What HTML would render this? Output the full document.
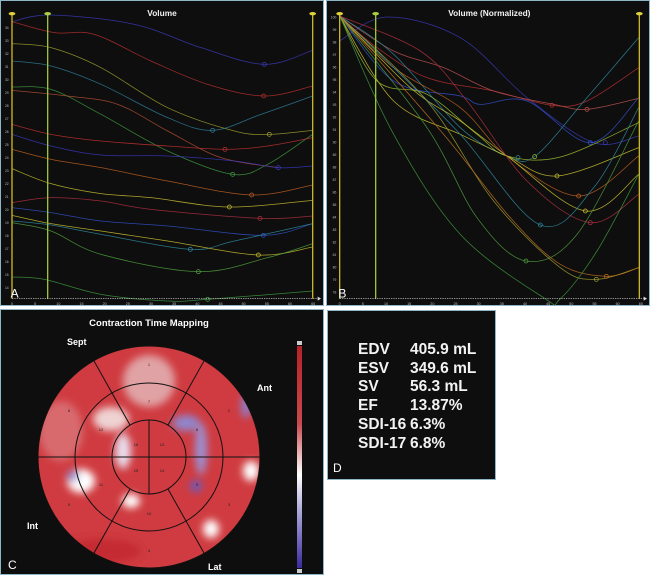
<!DOCTYPE html>
<html><head><meta charset="utf-8"><style>
html,body{margin:0;padding:0;background:#fff;width:650px;height:575px;overflow:hidden;font-family:"Liberation Sans",sans-serif}
.p{position:absolute;background:#0e0e0e;border:1px solid #8fb6c6;box-sizing:border-box}
svg{position:absolute;left:0;top:0}
.d{position:absolute;color:#f2f2f2;font-weight:bold;font-size:15.5px;line-height:18.7px}
</style></head><body>
<div class="p" style="left:0;top:0;width:324px;height:306px"><svg id="sa" width="324" height="306" viewBox="0 0 972 918"></svg></div>
<div class="p" style="left:326px;top:0;width:324px;height:306px"><svg id="sb" width="324" height="306" viewBox="0 0 972 918"></svg></div>
<div class="p" style="left:0;top:309px;width:324px;height:266px">
<svg width="324" height="266" viewBox="0 309 324 266">
<defs>
<filter id="bl" x="-50%" y="-50%" width="200%" height="200%"><feGaussianBlur stdDeviation="4"/></filter>
<clipPath id="cc"><circle cx="148" cy="456" r="111"/></clipPath>
<linearGradient id="cb" x1="0" y1="0" x2="0" y2="1"><stop offset="0" stop-color="#b52228"/><stop offset="0.35" stop-color="#c9494e"/><stop offset="0.58" stop-color="#fff"/><stop offset="0.72" stop-color="#b8b4de"/><stop offset="1" stop-color="#3a2aa0"/></linearGradient>
</defs>
<text x="148" y="325" fill="#fff" font-size="9.5" font-weight="bold" text-anchor="middle">Contraction Time Mapping</text>
<text x="66" y="344" fill="#fff" font-size="9" font-weight="bold">Sept</text>
<text x="256" y="390" fill="#fff" font-size="9" font-weight="bold">Ant</text>
<text x="26" y="528" fill="#fff" font-size="9" font-weight="bold">Int</text>
<text x="207" y="569" fill="#fff" font-size="9" font-weight="bold">Lat</text>
<text x="7" y="568" fill="#fff" font-size="12">C</text>
<circle cx="148" cy="456" r="111" fill="#cf3b40"/>
<g clip-path="url(#cc)" filter="url(#bl)">
<ellipse cx="148" cy="380" rx="26" ry="26" fill="#e0a2a4"/>
<ellipse cx="110" cy="418" rx="18" ry="12" fill="#efd3d3"/>
<ellipse cx="60" cy="430" rx="22" ry="30" fill="#d86a6e"/>
<ellipse cx="122" cy="450" rx="8" ry="18" fill="#e8dcec"/>
<ellipse cx="80" cy="480" rx="14" ry="12" fill="#fff"/>
<ellipse cx="72" cy="475" rx="6" ry="6" fill="#9a90d0"/>
<ellipse cx="130" cy="500" rx="9" ry="7" fill="#fff"/>
<ellipse cx="185" cy="422" rx="14" ry="8" fill="#8f86cc"/>
<ellipse cx="200" cy="448" rx="6" ry="26" fill="#9a92d4"/>
<ellipse cx="195" cy="485" rx="6" ry="6" fill="#6a5cc0"/>
<ellipse cx="210" cy="528" rx="8" ry="9" fill="#fff"/>
<ellipse cx="250" cy="470" rx="8" ry="10" fill="#fff"/>
<ellipse cx="245" cy="405" rx="5" ry="12" fill="#8a80cc"/>
<ellipse cx="100" cy="550" rx="40" ry="12" fill="#c42a30"/>
</g>
<g fill="none" stroke="#111" stroke-width="1">
<circle cx="148" cy="456" r="111"/><circle cx="148" cy="456" r="74"/><circle cx="148" cy="456" r="37"/>
<line x1="37" y1="456" x2="259" y2="456"/><line x1="148" y1="419" x2="148" y2="493"/>
<line x1="93" y1="360" x2="129" y2="424"/><line x1="203" y1="360" x2="167" y2="424"/>
<line x1="93" y1="552" x2="129" y2="488"/><line x1="203" y1="552" x2="167" y2="488"/>
</g>
<g fill="#222" font-size="4" text-anchor="middle">
<text x="148" y="365">1</text><text x="228" y="411">2</text><text x="228" y="505">3</text><text x="148" y="551">4</text><text x="68" y="505">5</text><text x="68" y="411">6</text>
<text x="148" y="402">7</text><text x="196" y="430">8</text><text x="196" y="485">9</text><text x="148" y="514">10</text><text x="100" y="485">11</text><text x="100" y="430">12</text>
<text x="161" y="445">13</text><text x="161" y="471">14</text><text x="135" y="471">15</text><text x="135" y="445">16</text>
</g>
<rect x="296" y="345" width="5" height="222" fill="url(#cb)"/>
<rect x="296" y="340" width="5" height="4" fill="#ccc"/><rect x="296" y="568" width="5" height="4" fill="#ccc"/>
</svg></div>
<div class="p" style="left:327px;top:310px;width:169px;height:170px">
<div class="d" style="left:30px;top:30px">EDV<br>ESV<br>SV<br>EF<br>SDI-16<br>SDI-17</div>
<div class="d" style="left:82px;top:30px">405.9 mL<br>349.6 mL<br>56.3 mL<br>13.87%<br>6.3%<br>6.8%</div>
<div style="position:absolute;left:5px;top:150px;color:#fff;font-size:12px">D</div>
</div>
<script>
function sm(p){var d="M"+p[0][0]+","+p[0][1];for(var i=0;i<p.length-1;i++){var a=p[i-1]||p[i],b=p[i],c=p[i+1],e=p[i+2]||c;d+=" C"+(b[0]+(c[0]-a[0])/6)+","+(b[1]+(c[1]-a[1])/6)+" "+(c[0]-(e[0]-b[0])/6)+","+(c[1]-(e[1]-b[1])/6)+" "+c[0]+","+c[1];}return d;}
function build(id,title,lx,gx,rx,curves,labels,letter){var s='';
s+='<text x="'+(id=="sa"?483:487)+'" y="45" fill="#f2f2f2" font-size="25" font-weight="bold" text-anchor="middle">'+title+'</text>';
curves.forEach(function(c){s+='<path d="'+sm(c[1])+'" fill="none" stroke="'+c[0]+'" stroke-width="2.3" opacity="0.85"/>';if(c[2])s+='<circle cx="'+c[2][0]+'" cy="'+c[2][1]+'" r="6" fill="none" stroke="'+c[0]+'" stroke-width="2.2"/>';});
s+='<line x1="'+lx+'" y1="38" x2="'+lx+'" y2="893" stroke="#c9b52a" stroke-width="4"/>';
s+='<line x1="'+gx+'" y1="38" x2="'+gx+'" y2="893" stroke="#9cc43a" stroke-width="4"/>';
s+='<line x1="'+rx+'" y1="38" x2="'+rx+'" y2="893" stroke="#c9b52a" stroke-width="4"/>';
s+='<ellipse cx="'+lx+'" cy="38" rx="10" ry="5" fill="#e0d03a"/><ellipse cx="'+gx+'" cy="38" rx="10" ry="5" fill="#a8d040"/><ellipse cx="'+rx+'" cy="38" rx="10" ry="5" fill="#e0d03a"/>';
s+='<line x1="'+lx+'" y1="893" x2="950" y2="893" stroke="#ddd" stroke-width="2" stroke-dasharray="4 3"/><path d="M950,887 L960,893 L950,899Z" fill="#ddd"/>';
for(var i=0;i<14;i++){s+='<text x="'+(lx+i*69.5)+'" y="912" fill="#bbb" font-size="11" text-anchor="middle">'+(i*5)+'</text>';}
labels.forEach(function(l,i){s+='<text x="'+(lx-10)+'" y="'+(l[1]+4)+'" fill="#bbb" font-size="10" text-anchor="end">'+l[0]+'</text>';});
s+='<text x="'+(lx-4)+'" y="890" fill="#fff" font-size="36">'+letter+'</text>';
document.getElementById(id).innerHTML=s;}
var A=[
['#3a3ab8',[[33,62],[150,42],[400,70],[600,140],[790,190],[935,148]],[790,190]],
['#b83030',[[33,62],[160,95],[280,100],[450,180],[620,250],[790,285],[935,255]],[788,285]],
['#a0a030',[[33,128],[150,140],[300,200],[500,320],[700,390],[805,400],[935,388]],[805,400]],
['#2f7f9a',[[33,180],[150,195],[300,250],[500,350],[635,388],[780,340],[935,285]],[635,388]],
['#3f9a40',[[33,258],[150,265],[300,340],[500,450],[695,520],[800,490],[935,400]],[695,520]],
['#b05030',[[33,268],[200,285],[350,310],[500,390],[660,470],[832,500]]],
['#c03030',[[33,370],[150,400],[300,420],[500,435],[672,445],[800,435],[935,410]],[672,445]],
['#3838c0',[[33,400],[150,435],[300,462],[500,465],[700,480],[832,500],[935,495]],[832,500]],
['#c06020',[[33,445],[150,475],[300,500],[500,540],[752,582],[935,552]],[752,582]],
['#c8c030',[[33,503],[150,548],[300,578],[450,590],[685,618],[935,598]],[685,618]],
['#b03040',[[33,605],[150,590],[300,600],[450,625],[777,652],[935,645]],[777,652]],
['#3050c8',[[33,620],[150,635],[300,660],[500,675],[787,703],[935,668]],[787,703]],
['#2f8aa0',[[33,660],[150,672],[300,700],[568,745],[700,720],[935,668]],[568,745]],
['#c8c030',[[33,643],[150,668],[300,690],[500,720],[772,762],[935,738]],[772,762]],
['#50a040',[[33,665],[150,690],[300,760],[592,812],[800,770],[935,728]],[592,812]],
['#3f9a40',[[33,828],[130,835],[300,880],[500,900],[620,895],[935,870]],[620,895]]];
var la=[];for(var v=34,y=80;v>=14;v--,y+=39)la.push([v,y]);
build('sa','Volume',33,140,935,A,la,'A');
var B=[
['#3a3ab8',[[38,120],[180,48],[400,110],[600,290],[800,425],[935,405]],[835,425]],
['#b83030',[[38,45],[150,140],[300,230],[500,270],[675,313],[780,300],[935,200]],[675,313]],
['#c05050',[[38,45],[200,150],[350,200],[500,270],[680,310],[780,325],[935,292]],[780,325]],
['#3050c8',[[38,45],[200,240],[400,285],[460,310],[600,300],[790,425],[935,290]],[790,425]],
['#2f8aa0',[[38,45],[200,160],[400,380],[540,465],[625,465],[780,290],[935,110]],[573,470]],
['#c8c030',[[38,45],[200,300],[400,400],[540,465],[690,525],[935,440]],[690,525]],
['#a0c030',[[38,45],[150,240],[300,280],[450,400],[540,465],[700,468],[935,365]],[623,467]],
['#c06020',[[38,45],[200,200],[400,320],[540,465],[755,585],[935,465]],[755,585]],
['#c8c030',[[38,45],[250,260],[400,360],[540,465],[775,630],[935,520]],[775,630]],
['#b03040',[[38,45],[280,150],[420,300],[600,540],[790,665],[935,580]],[790,665]],
['#2f8aa0',[[38,45],[200,200],[400,400],[640,672],[800,560],[935,320]],[640,672]],
['#50a040',[[38,45],[300,380],[450,650],[597,780],[750,700],[935,360]],[597,780]],
['#a0a030',[[38,45],[300,300],[500,600],[700,800],[808,835],[935,800]],[808,835]],
['#c07020',[[38,45],[350,400],[550,650],[700,790],[838,826],[935,800]],[838,826]],
['#3f9a40',[[38,45],[200,400],[400,700],[650,890],[700,893],[810,750],[935,520]]]];
var lb=[];for(var v=100,y=48;v>=78;v--,y+=37.5)lb.push([v,y]);
build('sb','Volume (Normalized)',38,146,937,B,lb,'B');
</script>
</body></html>
